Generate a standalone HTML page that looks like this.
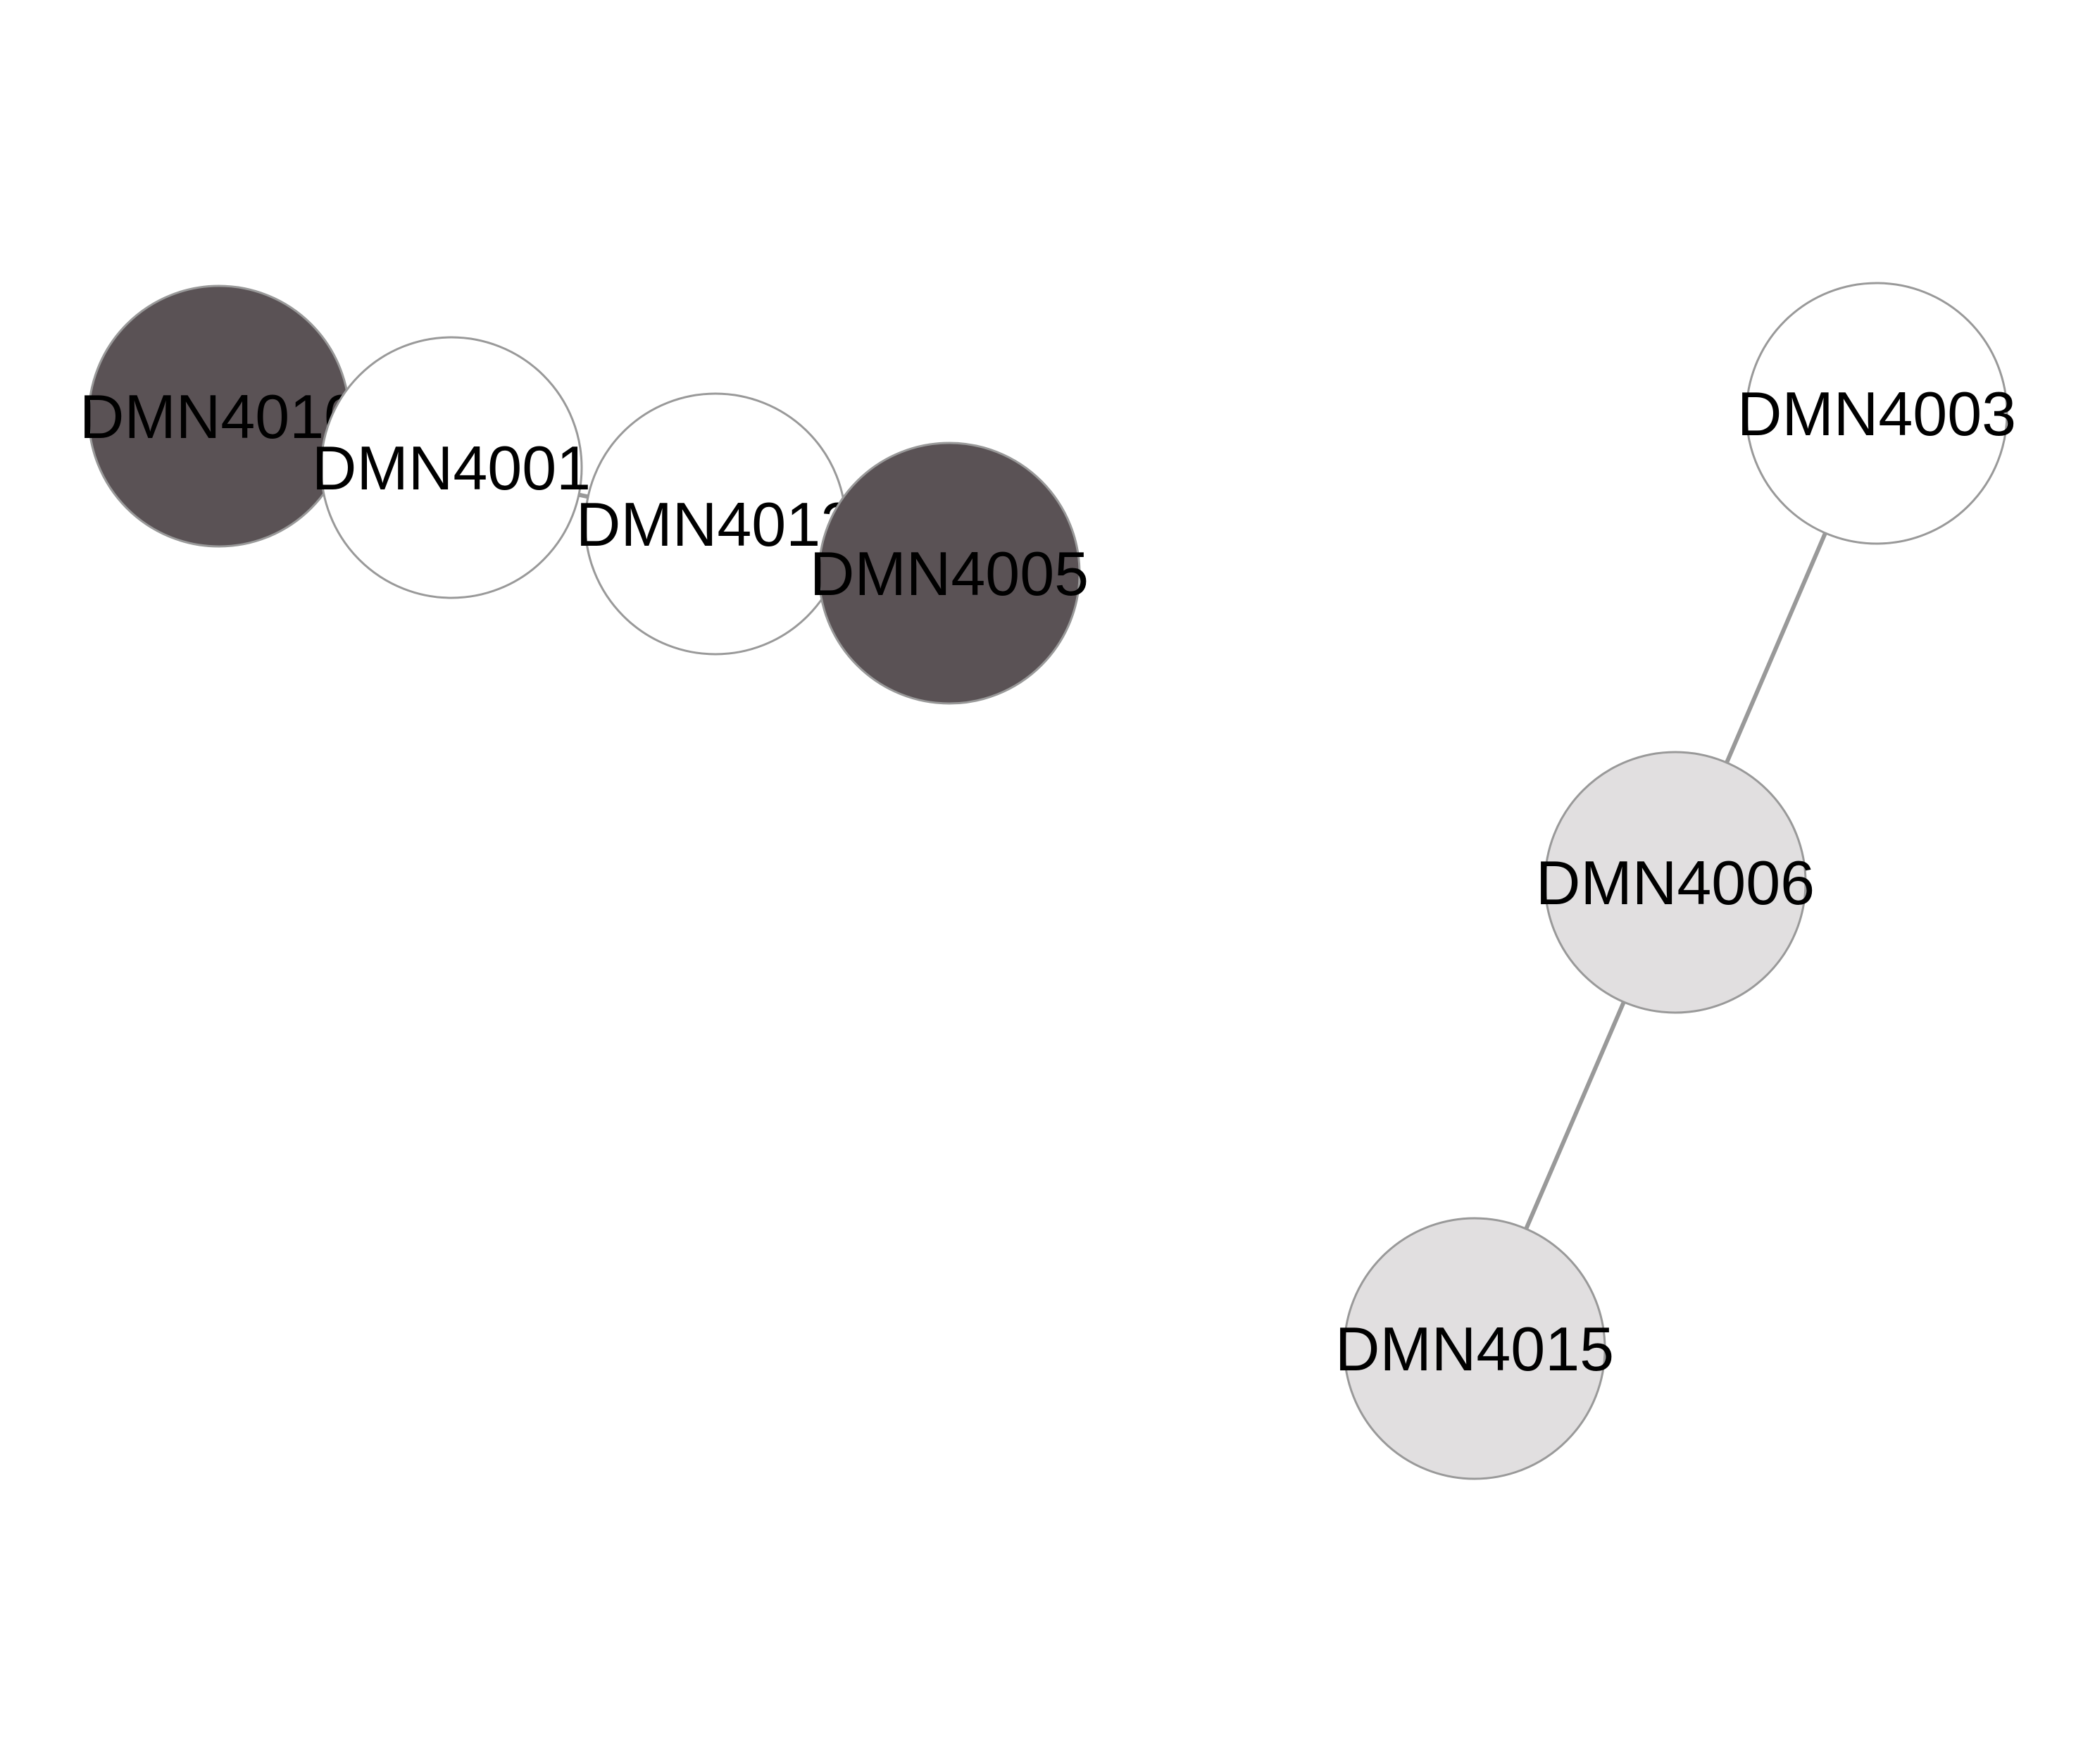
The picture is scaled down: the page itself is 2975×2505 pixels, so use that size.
<!DOCTYPE html>
<html><head><meta charset="utf-8"><style>html,body{margin:0;padding:0;background:#fff}svg{display:block}</style></head>
<body>
<svg width="2975" height="2505" viewBox="0 0 2975 2505" xmlns="http://www.w3.org/2000/svg" font-family="Liberation Sans, Arial, sans-serif" font-size="88" text-anchor="middle">
<rect width="2975" height="2505" fill="#fff"/>
<g stroke="#999" stroke-width="6">
<line x1="311" y1="591" x2="641" y2="664"/>
<line x1="641" y1="664" x2="1016" y2="744"/>
<line x1="1016" y1="744" x2="1348" y2="814"/>
<line x1="2665" y1="587" x2="2379" y2="1253"/>
<line x1="2379" y1="1253" x2="2094" y2="1915"/>
</g>
<g stroke="#999" stroke-width="3">
<circle cx="311" cy="591" r="185" fill="#5a5255"/>
<text x="311" y="622" stroke="none" fill="#000">DMN4010</text>
<circle cx="641" cy="664" r="185" fill="#fff"/>
<text x="641" y="695" stroke="none" fill="#000">DMN4001</text>
<circle cx="1016" cy="744" r="185" fill="#fff"/>
<text x="1016" y="775" stroke="none" fill="#000">DMN4012</text>
<circle cx="1348" cy="814" r="185" fill="#5a5255"/>
<text x="1348" y="845" stroke="none" fill="#000">DMN4005</text>
<circle cx="2665" cy="587" r="185" fill="#fff"/>
<text x="2665" y="618" stroke="none" fill="#000">DMN4003</text>
<circle cx="2379" cy="1253" r="185" fill="#e1dfe0"/>
<text x="2379" y="1284" stroke="none" fill="#000">DMN4006</text>
<circle cx="2094" cy="1915" r="185" fill="#e1dfe0"/>
<text x="2094" y="1946" stroke="none" fill="#000">DMN4015</text>
</g>
</svg>
</body></html>
